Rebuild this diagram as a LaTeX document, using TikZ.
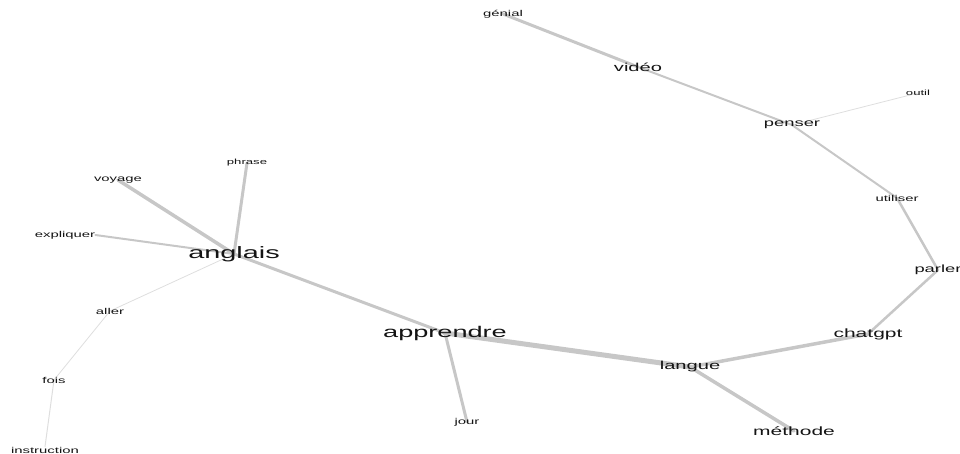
\documentclass[tikz,border=0pt]{standalone}
\usepackage{fontspec}
\newfontfamily\netfont[FakeStretch=1.75]{Liberation Sans}
\usetikzlibrary{backgrounds}
\colorlet{edge}{black!22}
\colorlet{faint}{black!13}

\begin{document}
\begin{tikzpicture}[x=1pt, y=-1pt,
    word/.style={font=\netfont\fontsize{#1}{#1}\selectfont, text=black!92, inner sep=0pt},
    link/.style={draw=edge, line width=#1, line cap=round},
    thin/.style={draw=faint, line width=#1, line cap=round}]
  \useasboundingbox (0,0) rectangle (960,454);

  % words
  \node[word=8.5]  (genial)      at (503,14)  {génial};
  \node[word=11.5] (video)       at (638,67)  {vidéo};
  \node[word=10.5] (penser)      at (792,125) {penser};
  \node[word=7.5]  (outil)       at (918,93)  {outil};
  \node[word=8.5]  (utiliser)    at (897,198) {utiliser};
  \node[word=10.5] (parler)      at (938,270) {parler};
  \node[word=12]   (chatgpt)     at (868,334) {chatgpt};
  \node[word=11.5] (langue)      at (690,367) {langue};
  \node[word=12]   (methode)     at (794,431) {méthode};
  \node[word=15.5] (apprendre)   at (445,333) {apprendre};
  \node[word=8.5]  (jour)        at (467,422) {jour};
  \node[word=16.5] (anglais)     at (234,254) {anglais};
  \node[word=7.5]  (phrase)      at (247,163) {phrase};
  \node[word=8.5]  (voyage)      at (118,180) {voyage};
  \node[word=8.5]  (expliquer)   at (65,235)  {expliquer};
  \node[word=8.5]  (aller)       at (110,311) {aller};
  \node[word=8.5]  (fois)        at (54,380)  {fois};
  \node[word=8.5]  (instruction) at (45,450)  {instruction};

  % links, under the words
  \begin{pgfonlayer}{background}
    \draw[link=3]   (genial.center) -- (video.center);
    \draw[link=2]   (video.center) -- (penser.center);
    \draw[thin=0.8] (penser.center) -- (outil.center);
    \draw[link=2]   (penser.center) -- (utiliser.center);
    \draw[link=2.5] (utiliser.center) -- (parler.center);
    \draw[link=2.5] (parler.center) -- (chatgpt.center);
    \draw[link=3.5] (chatgpt.center) -- (langue.center);
    \draw[link=3.5] (langue.center) -- (methode.center);
    \draw[link=5]   (langue.center) -- (apprendre.center);
    \draw[link=3]   (apprendre.center) -- (jour.center);
    \draw[link=3]   (apprendre.center) -- (anglais.center);
    \draw[link=3]   (anglais.center) -- (phrase.center);
    \draw[link=3.5] (anglais.center) -- (voyage.center);
    \draw[link=2]   (anglais.center) -- (expliquer.east);
    \draw[thin=0.8] (anglais.center) -- (aller.center);
    \draw[thin=0.8] (aller.center) -- (fois.center);
    \draw[thin=1]   (fois.center) -- (instruction.north);
  \end{pgfonlayer}
\end{tikzpicture}
\end{document}
